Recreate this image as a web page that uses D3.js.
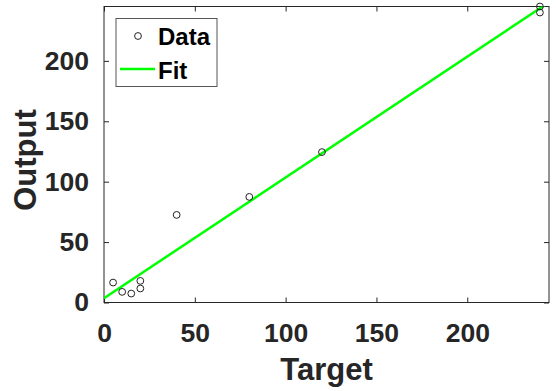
<!DOCTYPE html>
<html>
<head>
<meta charset="utf-8">
<script src="https://cdn.jsdelivr.net/npm/d3@7.9.0/dist/d3.min.js"></script>
<style>
  body { margin: 0; background: #fff; }
  text { font-family: "Liberation Sans", Arial, sans-serif; font-weight: bold; fill: #262626; }
</style>
</head>
<body>
<div id="chart"></div>
<script>
// data
const targets = [5, 10, 15, 20, 20, 40, 80, 120, 240, 240];
const outputs = [16.5, 8.8, 7.4, 17.9, 11.6, 72.5, 87.4, 124.5, 245, 240];
const fitX = [0, 245];
const fitY = [3.5, 248.5];
const xTicks = [0, 50, 100, 150, 200];
const yTicks = [0, 50, 100, 150, 200];
const legendItems = ['Data', 'Fit'];

const width = 558;
const height = 391;
const plot = { left: 104, right: 549, top: 6.5, bottom: 302.5 };

const svg = d3.select('#chart')
  .append('svg')
  .attr('width', width)
  .attr('height', height);

const xScale = d3.scaleLinear().domain([0, 245]).range([plot.left, plot.right]);
const yScale = d3.scaleLinear().domain([0, 245]).range([plot.bottom, plot.top]);

svg.append('clipPath').attr('id', 'clip')
  .append('rect')
  .attr('x', plot.left).attr('y', plot.top)
  .attr('width', plot.right - plot.left)
  .attr('height', plot.bottom - plot.top);

// axes, ticks inward on all four sides
const axisColor = '#262626';
function styleAxis(g) {
  g.select('.domain').remove();
  g.selectAll('line').attr('stroke', axisColor);
  g.selectAll('text')
    .style('font-size', '26.5px')
    .attr('fill', axisColor);
}

svg.append('g')
  .attr('transform', `translate(0, ${plot.bottom})`)
  .call(d3.axisBottom(xScale).tickValues(xTicks).tickSize(-5).tickPadding(14))
  .call(styleAxis)
  .call((g) => g.selectAll('text').attr('dy', '0.71em').attr('y', 21));

svg.append('g')
  .attr('transform', `translate(0, ${plot.top})`)
  .call(d3.axisTop(xScale).tickValues(xTicks).tickSize(-5).tickFormat(''))
  .call(styleAxis);

svg.append('g')
  .attr('transform', `translate(${plot.left}, 0)`)
  .call(d3.axisLeft(yScale).tickValues(yTicks).tickSize(-5).tickPadding(15))
  .call(styleAxis);

svg.append('g')
  .attr('transform', `translate(${plot.right}, 0)`)
  .call(d3.axisRight(yScale).tickValues(yTicks).tickSize(-5).tickFormat(''))
  .call(styleAxis);

svg.append('rect')
  .attr('x', plot.left).attr('y', plot.top)
  .attr('width', plot.right - plot.left)
  .attr('height', plot.bottom - plot.top)
  .attr('fill', 'none')
  .attr('stroke', axisColor)
  .attr('stroke-width', 1);

// fit line
const line = d3.line()
  .x((d, i) => xScale(fitX[i]))
  .y((d) => yScale(d));

svg.append('path')
  .datum(fitY)
  .attr('clip-path', 'url(#clip)')
  .attr('d', line)
  .attr('fill', 'none')
  .attr('stroke', '#00ff00')
  .attr('stroke-width', 2.5);

// data points
svg.append('g')
  .selectAll('circle')
  .data(targets)
  .join('circle')
  .attr('cx', (d) => xScale(d))
  .attr('cy', (d, i) => yScale(outputs[i]))
  .attr('r', 3.4)
  .attr('fill', 'none')
  .attr('stroke', '#222')
  .attr('stroke-width', 1);

// axis labels
svg.append('text')
  .attr('x', (plot.left + plot.right) / 2)
  .attr('y', 380)
  .attr('text-anchor', 'middle')
  .style('font-size', '31px')
  .text('Target');

svg.append('text')
  .attr('transform', 'translate(36, 160) rotate(-90)')
  .attr('text-anchor', 'middle')
  .style('font-size', '31px')
  .text('Output');

// legend
const legend = svg.append('g');
legend.append('rect')
  .attr('x', 116).attr('y', 18.5)
  .attr('width', 101).attr('height', 68)
  .attr('fill', '#fff')
  .attr('stroke', '#555')
  .attr('stroke-width', 1);

legend.append('circle')
  .attr('cx', 138).attr('cy', 36)
  .attr('r', 3.4)
  .attr('fill', 'none')
  .attr('stroke', '#222');

legend.append('line')
  .attr('x1', 120).attr('x2', 155)
  .attr('y1', 69).attr('y2', 69)
  .attr('stroke', '#00ff00')
  .attr('stroke-width', 2.5);

legend.selectAll('.lab')
  .data(legendItems)
  .join('text')
  .attr('class', 'lab')
  .attr('x', 158)
  .attr('y', (d, i) => 45 + i * 34)
  .style('font-size', '24px')
  .attr('fill', '#000')
  .style('fill', '#000')
  .text((d) => d);
</script>
</body>
</html>
